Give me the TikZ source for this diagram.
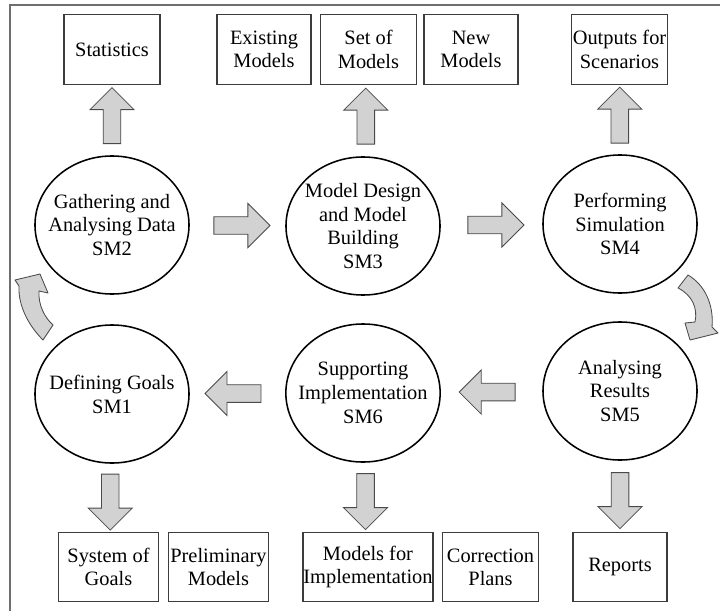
\documentclass[tikz,border=0pt]{standalone}
\usepackage{fontspec}
\setmainfont{Liberation Serif}
\usetikzlibrary{positioning, calc, shapes.geometric, shapes.arrows}
\definecolor{FrameGray}{HTML}{6E6E6E}
\definecolor{BoxGray}{HTML}{3C3C3C}
\definecolor{ArrowEdge}{HTML}{4A4A4A}
\definecolor{ArrowFill}{HTML}{D2D2D2}
\tikzset{
  stage/.style={ellipse, draw=black, line width=1.1pt, minimum width=3.85cm, minimum height=3.45cm, inner sep=-2.5mm, align=center, font=\fontsize{14.5}{17}\selectfont},
  outbox/.style={draw=BoxGray, line width=0.8pt, inner sep=0pt, minimum height=1.74cm, align=center, font=\fontsize{14.5}{16.5}\selectfont},
  blockarrow/.style={single arrow, draw=ArrowEdge, fill=ArrowFill, line width=0.6pt, inner xsep=0pt, inner ysep=0.21cm, minimum height=1.4cm, single arrow head extend=0.33cm, single arrow tip angle=90, single arrow head indent=0pt},
  bentarrow/.style={draw=ArrowEdge, fill=ArrowFill, line width=0.6pt, line join=round}
}

\begin{document}
\begin{tikzpicture}[x=0.025cm, y=-0.025cm]
\useasboundingbox (0,0) rectangle (720,610);
\draw[FrameGray, line width=0.8pt] (10,612) -- (10,5) -- (722,5);

\node[stage] (sm2) at (112,225) {Gathering and\\Analysing Data\\SM2};
\node[stage] (sm3) at (363,226) {Model Design\\and Model\\Building\\SM3};
\node[stage] (sm4) at (620,224) {Performing\\Simulation\\SM4};
\node[stage] (sm1) at (112,394) {Defining Goals\\SM1};
\node[stage] (sm6) at (363,393) {Supporting\\Implementation\\SM6};
\node[stage] (sm5) at (620,391) {Analysing\\Results\\SM5};

\node[outbox, minimum width=2.4cm] (stat) at (112,49.5) {Statistics};
\node[outbox, minimum width=2.35cm] (exist) at (264,49.5) {Existing\\Models};
\node[outbox, minimum width=2.42cm] (setm) at (368.5,49.5) {Set of\\Models};
\node[outbox, minimum width=2.35cm] (newm) at (471,49.5) {New\\Models};
\node[outbox, minimum width=2.38cm] (outs) at (619.5,49.5) {Outputs for\\Scenarios};

\node[outbox, minimum width=2.52cm] (sysg) at (108.5,567) {System of\\Goals};
\node[outbox, minimum width=2.48cm] (prel) at (218.5,567) {Preliminary\\Models};
\node[outbox, minimum width=3.25cm] (mimp) at (368,567) {Models for\\Implementation};
\node[outbox, minimum width=2.38cm] (corr) at (490.5,567) {Correction\\Plans};
\node[outbox, minimum width=2.35cm] (reps) at (620,567) {Reports};

\node[blockarrow, rotate=90] (up2) at ($(sm2.north)!0.5!(stat.south)$) {};
\node[blockarrow, rotate=90] (up3) at ($(sm3.north)!0.5!(setm.south)$) {};
\node[blockarrow, rotate=90] (up4) at ($(sm4.north)!0.5!(outs.south)$) {};
\node[blockarrow] (r23) at ($(sm2.east)!0.5!(sm3.west)$) {};
\node[blockarrow] (r34) at ($(sm3.east)!0.5!(sm4.west)$) {};
\node[blockarrow, rotate=180] (l56) at ($(sm5.west)!0.5!(sm6.east)$) {};
\node[blockarrow, rotate=180] (l61) at ($(sm6.west)!0.5!(sm1.east)$) {};
\node[blockarrow, rotate=-90] (dn1) at ($(sm1.south)!0.5!(sysg.north)$) {};
\node[blockarrow, rotate=-90] (dn6) at ($(sm6.south)!0.5!(mimp.north)$) {};
\node[blockarrow, rotate=-90] (dn5) at ($(sm5.south)!0.5!(reps.north)$) {};

\draw[bentarrow] (43,340) .. controls (28,325) and (18,305) .. (19,286) -- (15,280) -- (40,274) -- (48,293) -- (39,291) .. controls (38,305) and (45,318) .. (53,325) -- cycle;
\draw[bentarrow] (688,275) .. controls (705,285) and (714,305) .. (712,327) -- (718,333) -- (690,340) -- (685,323) -- (695,322) .. controls (698,308) and (692,295) .. (678,288) -- cycle;
\end{tikzpicture}
\end{document}
